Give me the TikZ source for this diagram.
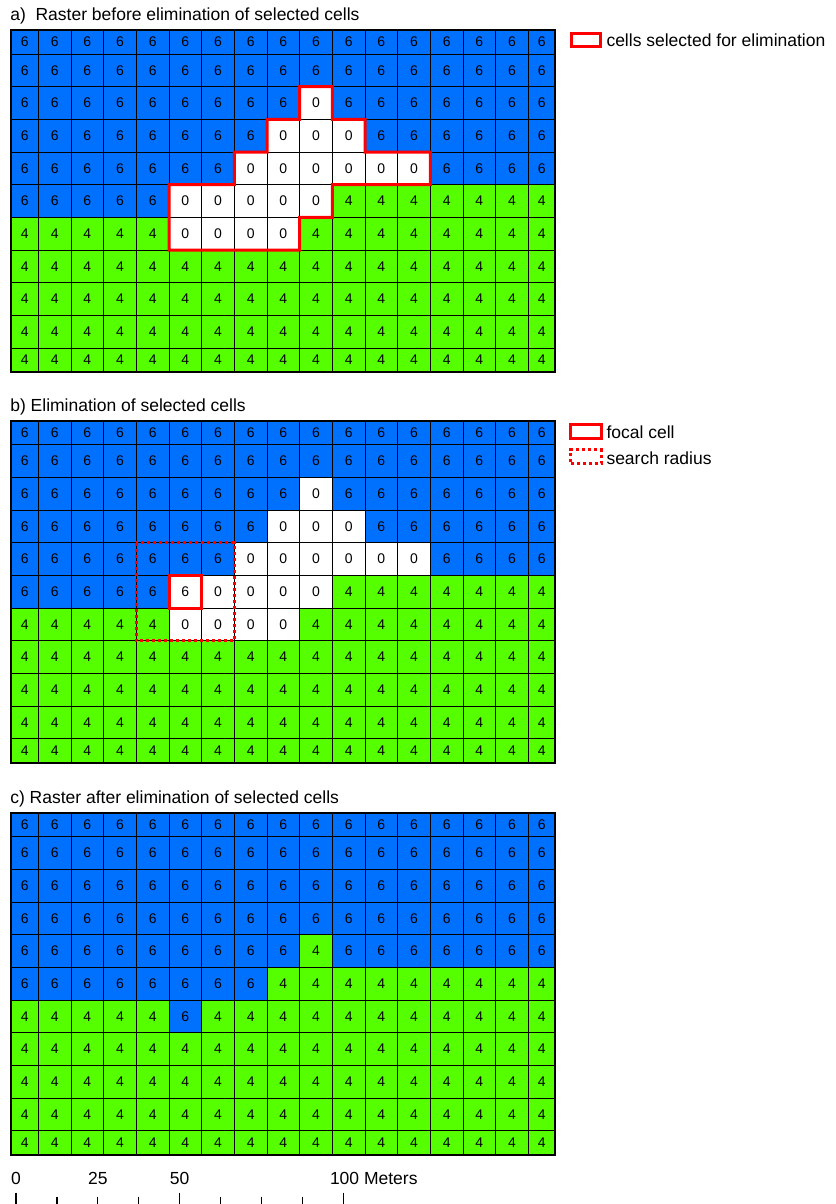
\documentclass[tikz,border=0pt]{standalone}
\usepackage{fontspec}
\setmainfont{Liberation Sans}
\definecolor{rblue}{RGB}{0,112,255}
\definecolor{rgreen}{RGB}{85,255,0}
\definecolor{rred}{RGB}{255,0,0}
\expandafter\def\csname rtxt6\endcsname{6}
\expandafter\def\csname rtxt4\endcsname{4}
\expandafter\def\csname rtxt0\endcsname{0}
\expandafter\def\csname rtxtf\endcsname{6}
\tikzset{
  rcell/.style={draw=black, line width=0.9, inner sep=0, outer sep=0, text=black,
    font=\fontsize{14}{15}\selectfont},
  rcell6/.style={fill=rblue},
  rcell4/.style={fill=rgreen},
  rcell0/.style={fill=white},
  rcellf/.style={fill=white},
  txt/.style={inner sep=0, outer sep=0, font=\fontsize{17.5}{20}\selectfont},
  rline/.style={draw=rred, line width=3, line join=miter},
  rdot/.style={draw=rred, line width=3, dash pattern=on 3pt off 3pt},
  tick/.style={draw=black, line width=1.3},
}
\newcommand\rastergrid[3]{%
  \foreach \rowvals [count=\i] in {#3} {%
    \foreach \v [count=\j] in \rowvals {%
      \pgfmathsetmacro\xl{max(11,38.33+(\j-2)*32.67)}%
      \pgfmathsetmacro\xr{min(555,38.33+(\j-1)*32.67)}%
      \pgfmathsetmacro\yt{#2+max(30,54+(\i-2)*32.67)}%
      \pgfmathsetmacro\yb{#2+min(372,54+(\i-1)*32.67)}%
      \pgfmathsetmacro\xc{(\xl+\xr)/2}%
      \pgfmathsetmacro\yc{(\yt+\yb)/2}%
      \pgfmathsetmacro\cw{\xr-\xl}%
      \pgfmathsetmacro\ch{\yb-\yt}%
      \node[rcell, rcell\v, minimum width=\cw pt, minimum height=\ch pt] (#1-\i-\j) at (\xc,\yc) {\csname rtxt\v\endcsname};%
    }%
  }%
  \draw[line width=1.6] (#1-1-1.north west) rectangle (#1-11-17.south east);%
}
\begin{document}
\begin{tikzpicture}[x=1pt,y=-1pt]
\useasboundingbox (0,0) rectangle (835,1204);
\fill[white] (0,0) rectangle (835,1204);

% ---------- a ----------
\node[txt, anchor=base west] (ta) at (10.3,20.7) {a)\ \ Raster before elimination of selected cells};
\rastergrid{a}{0}{
{6,6,6,6,6,6,6,6,6,6,6,6,6,6,6,6,6},
{6,6,6,6,6,6,6,6,6,6,6,6,6,6,6,6,6},
{6,6,6,6,6,6,6,6,6,0,6,6,6,6,6,6,6},
{6,6,6,6,6,6,6,6,0,0,0,6,6,6,6,6,6},
{6,6,6,6,6,6,6,0,0,0,0,0,0,6,6,6,6},
{6,6,6,6,6,0,0,0,0,0,4,4,4,4,4,4,4},
{4,4,4,4,4,0,0,0,0,4,4,4,4,4,4,4,4},
{4,4,4,4,4,4,4,4,4,4,4,4,4,4,4,4,4},
{4,4,4,4,4,4,4,4,4,4,4,4,4,4,4,4,4},
{4,4,4,4,4,4,4,4,4,4,4,4,4,4,4,4,4},
{4,4,4,4,4,4,4,4,4,4,4,4,4,4,4,4,4}}
\draw[rline] (a-3-10.north west) -- (a-3-10.north east) -- (a-3-10.south east)
  -- (a-4-11.north east) -- (a-4-11.south east) -- (a-5-13.north east)
  -- (a-5-13.south east) -- (a-6-11.north west) -- (a-6-11.south west)
  -- (a-7-10.north west) -- (a-7-10.south west) -- (a-7-6.south west)
  -- (a-6-6.north west) -- (a-6-8.north west) -- (a-5-8.north west)
  -- (a-5-9.north west) -- (a-4-9.north west) -- (a-4-10.north west) -- cycle;
\node[rline, minimum width=29pt, minimum height=13.6pt, inner sep=0] (la) at (586,40) {};
\node[txt, anchor=base west] (lat) at (606.5,46.7) {cells selected for elimination};

% ---------- b ----------
\node[txt, anchor=base west] (tb) at (10.3,411.4) {b) Elimination of selected cells};
\rastergrid{b}{390.7}{
{6,6,6,6,6,6,6,6,6,6,6,6,6,6,6,6,6},
{6,6,6,6,6,6,6,6,6,6,6,6,6,6,6,6,6},
{6,6,6,6,6,6,6,6,6,0,6,6,6,6,6,6,6},
{6,6,6,6,6,6,6,6,0,0,0,6,6,6,6,6,6},
{6,6,6,6,6,6,6,0,0,0,0,0,0,6,6,6,6},
{6,6,6,6,6,f,0,0,0,0,4,4,4,4,4,4,4},
{4,4,4,4,4,0,0,0,0,4,4,4,4,4,4,4,4},
{4,4,4,4,4,4,4,4,4,4,4,4,4,4,4,4,4},
{4,4,4,4,4,4,4,4,4,4,4,4,4,4,4,4,4},
{4,4,4,4,4,4,4,4,4,4,4,4,4,4,4,4,4},
{4,4,4,4,4,4,4,4,4,4,4,4,4,4,4,4,4}}
\draw[rdot] (b-5-5.north west) rectangle (b-7-7.south east);
\draw[rline] (b-6-6.north west) rectangle (b-6-6.south east);
\node[rline, minimum width=30.4pt, minimum height=14.3pt, inner sep=0] (lb1) at (586,431.3) {};
\node[txt, anchor=base west] (lb1t) at (606.5,438.3) {focal cell};
\node[rdot, minimum width=30.4pt, minimum height=13.7pt, inner sep=0] (lb2) at (586,456.7) {};
\node[txt, anchor=base west] (lb2t) at (606.5,464) {search radius};

% ---------- c ----------
\node[txt, anchor=base west] (tc) at (10.3,803.4) {c) Raster after elimination of selected cells};
\rastergrid{c}{782.7}{
{6,6,6,6,6,6,6,6,6,6,6,6,6,6,6,6,6},
{6,6,6,6,6,6,6,6,6,6,6,6,6,6,6,6,6},
{6,6,6,6,6,6,6,6,6,6,6,6,6,6,6,6,6},
{6,6,6,6,6,6,6,6,6,6,6,6,6,6,6,6,6},
{6,6,6,6,6,6,6,6,6,4,6,6,6,6,6,6,6},
{6,6,6,6,6,6,6,6,4,4,4,4,4,4,4,4,4},
{4,4,4,4,4,6,4,4,4,4,4,4,4,4,4,4,4},
{4,4,4,4,4,4,4,4,4,4,4,4,4,4,4,4,4},
{4,4,4,4,4,4,4,4,4,4,4,4,4,4,4,4,4},
{4,4,4,4,4,4,4,4,4,4,4,4,4,4,4,4,4},
{4,4,4,4,4,4,4,4,4,4,4,4,4,4,4,4,4}}

% ---------- scale bar ----------
\foreach \k in {0,...,8} {
  \pgfmathsetmacro\tx{16+\k*40.91}
  \pgfmathsetmacro\ty{ifthenelse(mod(\k,4)==0,1192.7,1196.7)}
  \coordinate (st\k) at (\tx,\ty);
  \coordinate (sb\k) at (\tx,1204);
  \draw[tick] (st\k) -- (sb\k);
}
\node[txt, anchor=base] (s0) at (16,1184.3) {0};
\node[txt, anchor=base] (s25) at (97.8,1184.3) {25};
\node[txt, anchor=base] (s50) at (179.6,1184.3) {50};
\node[txt, anchor=base west] (s100) at (330,1184.3) {100 Meters};
\end{tikzpicture}
\end{document}
